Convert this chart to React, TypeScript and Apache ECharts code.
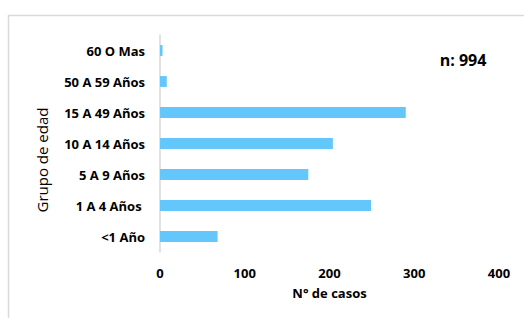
import React, { useEffect, useRef } from "react";
import * as echarts from "echarts";

const categories = ["<1 Año", "1 A 4 Años ", "5 A 9 Años", "10 A 14 Años", "15 A 49 Años", "50 A 59 Años", "60 O Mas"];
const casos = [68, 249, 175, 204, 290, 8, 3];
const xTicks = [0, 100, 200, 300, 400];
const totalLabel = "n: 994";

export default function App() {
  const ref = useRef<HTMLDivElement>(null);
  useEffect(() => {
    if (!ref.current) return;
    const chart = echarts.init(ref.current, null, { renderer: "svg" });
    const font = "'Open Sans', sans-serif";
    chart.setOption({
      animation: false,
      backgroundColor: "#ffffff",
      grid: { left: 160, right: 25, top: 35, bottom: 66 },
      xAxis: {
        type: "value",
        min: xTicks[0],
        max: xTicks[xTicks.length - 1],
        interval: 100,
        axisLine: { show: false },
        axisTick: { show: false },
        splitLine: { show: false },
        axisLabel: { margin: 14, fontSize: 13, fontWeight: "bold", color: "#000", fontFamily: font },
        name: "N° de casos",
        nameLocation: "middle",
        nameGap: 34,
        nameTextStyle: { fontSize: 13, fontWeight: "bold", color: "#000", fontFamily: font },
      },
      yAxis: {
        type: "category",
        data: categories,
        axisLine: { show: true, lineStyle: { color: "#d9d9d9", width: 1.5 } },
        axisTick: { show: false },
        axisLabel: { margin: 15, fontSize: 13, fontWeight: "bold", color: "#000", fontFamily: font },
      },
      series: [
        {
          type: "bar",
          data: casos,
          barWidth: "35%",
          itemStyle: { color: "#63c7fb" },
        },
      ],
      graphic: [
        {
          type: "rect",
          shape: { x: 8.5, y: 15.5, width: 600, height: 400 },
          style: { fill: "none", stroke: "#d9d9d9", lineWidth: 1.5 },
          silent: true,
        },
        {
          type: "text",
          x: 42,
          y: 160,
          rotation: Math.PI / 2,
          style: {
            text: "Grupo de edad",
            fontSize: 15,
            fontFamily: font,
            fill: "#000",
            align: "center",
            verticalAlign: "middle",
          },
        },
        {
          type: "text",
          x: 463,
          y: 60,
          style: {
            text: totalLabel,
            fontSize: 16,
            fontWeight: "bold",
            fontFamily: font,
            fill: "#000",
            align: "center",
            verticalAlign: "middle",
          },
        },
      ],
    });
    return () => chart.dispose();
  }, []);
  return (
    <div
      ref={ref}
      style={{ position: "fixed", left: 0, top: 0, width: 524, height: 318 }}
    />
  );
}
